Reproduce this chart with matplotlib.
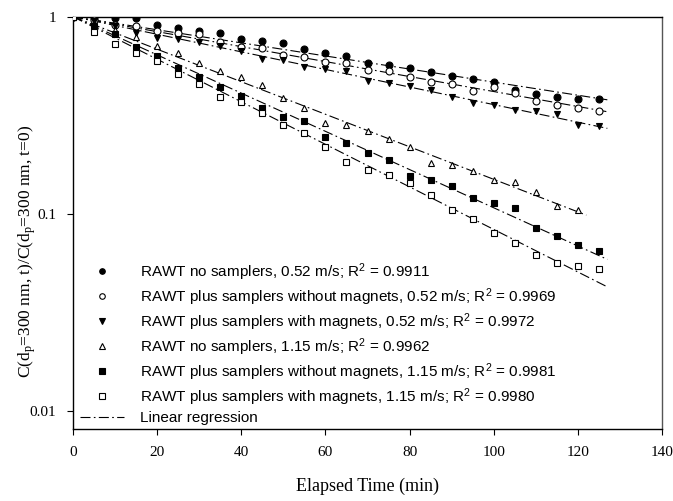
import numpy as np
import matplotlib
matplotlib.use("Agg")
import matplotlib.pyplot as plt
from matplotlib.lines import Line2D

plt.rcParams['mathtext.default'] = 'regular'

# elapsed time (min)
t_full = [0, 5, 10, 15, 20, 25, 30, 35, 40, 45, 50, 55, 60, 65, 70, 75,
          80, 85, 90, 95, 100, 105, 110, 115, 120, 125]
t_short = t_full[:-1]

# normalised concentration C(t)/C(t=0)
no_samp_052 = [1.0, 0.99, 0.99, 0.98, 0.908, 0.873, 0.845, 0.823, 0.770, 0.756,
               0.736, 0.683, 0.654, 0.634, 0.580, 0.567, 0.547, 0.526, 0.500,
               0.481, 0.468, 0.425, 0.405, 0.393, 0.382, 0.382]
no_mag_052 = [1.0, 0.96, 0.908, 0.897, 0.849, 0.823, 0.814, 0.741, 0.705, 0.691,
              0.639, 0.622, 0.591, 0.584, 0.536, 0.530, 0.496, 0.468, 0.457,
              0.421, 0.438, 0.408, 0.375, 0.356, 0.343, 0.332]
mag_052 = [1.0, 0.95, 0.90, 0.829, 0.784, 0.775, 0.744, 0.710, 0.672, 0.608,
           0.603, 0.557, 0.541, 0.532, 0.473, 0.459, 0.445, 0.425, 0.393,
           0.366, 0.356, 0.336, 0.333, 0.321, 0.282, 0.279]
no_samp_115 = [1.0, 0.92, 0.86, 0.79, 0.714, 0.654, 0.580, 0.530, 0.496, 0.450,
               0.385, 0.343, 0.290, 0.282, 0.264, 0.241, 0.219, 0.181, 0.176,
               0.165, 0.148, 0.145, 0.129, 0.110, 0.104]
no_mag_115 = [1.0, 0.897, 0.817, 0.704, 0.63, 0.547, 0.496, 0.441, 0.396, 0.346,
              0.311, 0.297, 0.244, 0.228, 0.203, 0.187, 0.155, 0.148, 0.138,
              0.121, 0.113, 0.1065, 0.0843, 0.077, 0.0693, 0.0647]
mag_115 = [1.0, 0.839, 0.731, 0.656, 0.598, 0.512, 0.455, 0.393, 0.370, 0.326,
           0.282, 0.258, 0.219, 0.184, 0.167, 0.157, 0.144, 0.1245, 0.1044,
           0.0937, 0.0795, 0.0712, 0.0617, 0.0564, 0.0543, 0.0528]

labels = [
    "RAWT no samplers, 0.52 m/s; R$^2$ = 0.9911",
    "RAWT plus samplers without magnets, 0.52 m/s; R$^2$ = 0.9969",
    "RAWT plus samplers with magnets, 0.52 m/s; R$^2$ = 0.9972",
    "RAWT no samplers, 1.15 m/s; R$^2$ = 0.9962",
    "RAWT plus samplers without magnets, 1.15 m/s; R$^2$ = 0.9981",
    "RAWT plus samplers with magnets, 1.15 m/s; R$^2$ = 0.9980",
]

series = [
    (t_full, no_samp_052, 'o', 'black'),
    (t_full, no_mag_052, 'o', 'white'),
    (t_full, mag_052, 'v', 'black'),
    (t_short, no_samp_115, '^', 'white'),
    (t_full, no_mag_115, 's', 'black'),
    (t_full, mag_115, 's', 'white'),
]

fig = plt.figure(figsize=(6.73, 5.01), dpi=100)
ax = fig.add_axes([0.1085, 0.1437, 0.8752, 0.823])

reg_style = (0, (9, 3, 1.5, 3))
handles = []
for (t, c, mk, fc), lab in zip(series, labels):
    t = np.array(t, dtype=float)
    y = np.log10(np.array(c))
    # first-order decay fitted through C/C0 = 1 at t = 0
    k = np.sum(t * y) / np.sum(t * t)
    tt = np.array([0, t[-1] + 2])
    ax.plot(tt, 10 ** (k * tt), color='black', lw=0.8, ls=reg_style, zorder=2)
    ax.plot(t, c, ls='none', marker=mk, ms=5, mfc=fc, mec='black', mew=0.8, zorder=3)
    handles.append(Line2D([], [], ls='none', marker=mk, ms=4, mfc=fc,
                          mec='black', mew=0.8, label=lab))
handles.append(Line2D([], [], color='black', lw=0.8, ls=reg_style,
                      label='Linear regression'))

ax.set_yscale('log')
ax.set_xlim(0, 140)
ax.set_ylim(0.0081, 1)
ax.set_xticks([0, 20, 40, 60, 80, 100, 120, 140])
ax.set_yticks([0.01, 0.1, 1])
ax.set_yticklabels(['0.01', '0.1', '1'])
ax.yaxis.set_minor_locator(matplotlib.ticker.NullLocator())
ax.tick_params(direction='out', length=4, width=0.8, top=False, right=False,
               labelsize=11, pad=8)
for lab in ax.get_xticklabels() + ax.get_yticklabels():
    lab.set_fontfamily('Liberation Serif')
for sp in ax.spines.values():
    sp.set_linewidth(1.0)
ax.spines['right'].set_color('#555555')

ax.set_xlabel('Elapsed Time (min)', family='Liberation Serif', fontsize=13, labelpad=14)
ax.set_ylabel('C(d$_p$=300 nm, t)/C(d$_p$=300 nm, t=0)', family='Liberation Serif',
              fontsize=12.5)
ax.yaxis.set_label_coords(-0.059, 0.43)

leg = ax.legend(handles=handles, loc='lower left', bbox_to_anchor=(0.012, 0.01),
                frameon=False, prop={'family': 'Liberation Sans', 'size': 11},
                handlelength=2.85, handletextpad=1.1, labelspacing=0.22,
                borderpad=0, borderaxespad=0)

fig.savefig('out.png', dpi=100)
